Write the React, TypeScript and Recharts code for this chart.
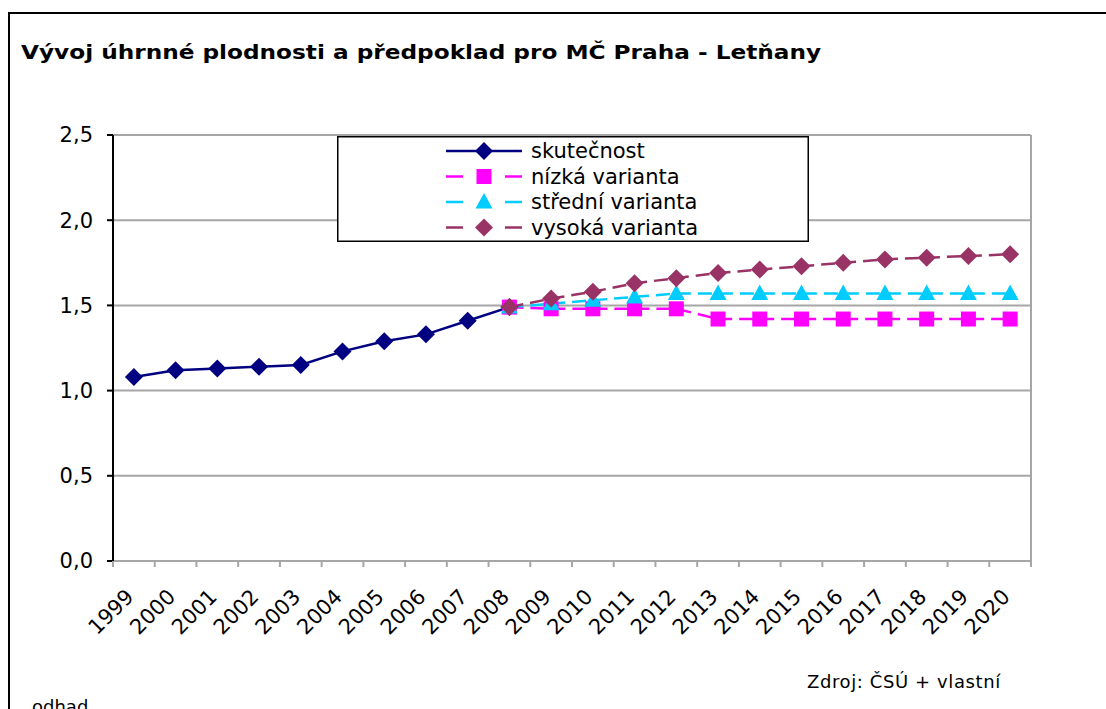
import React from "react"
import { LineChart, Line, XAxis, YAxis, CartesianGrid, Legend } from "recharts"

const years = [
    "1999", "2000", "2001", "2002", "2003", "2004", "2005", "2006", "2007", "2008", "2009",
    "2010", "2011", "2012", "2013", "2014", "2015", "2016", "2017", "2018", "2019", "2020",
]
const skutecnost = [1.08, 1.12, 1.13, 1.14, 1.15, 1.23, 1.29, 1.33, 1.41, 1.49, null, null, null, null, null, null, null, null, null, null, null, null]
const nizkaVarianta = [null, null, null, null, null, null, null, null, null, 1.49, 1.48, 1.48, 1.48, 1.48, 1.42, 1.42, 1.42, 1.42, 1.42, 1.42, 1.42, 1.42]
const stredniVarianta = [null, null, null, null, null, null, null, null, null, 1.49, 1.51, 1.53, 1.55, 1.57, 1.57, 1.57, 1.57, 1.57, 1.57, 1.57, 1.57, 1.57]
const vysokaVarianta = [null, null, null, null, null, null, null, null, null, 1.49, 1.54, 1.58, 1.63, 1.66, 1.69, 1.71, 1.73, 1.75, 1.77, 1.78, 1.79, 1.80]
const yTicks = [0, 0.5, 1, 1.5, 2, 2.5]

const data = years.map((year, i) => ({
    year,
    skutecnost: skutecnost[i],
    nizka: nizkaVarianta[i],
    stredni: stredniVarianta[i],
    vysoka: vysokaVarianta[i],
}))

const FONT = '"DejaVu Sans", Verdana, sans-serif'
const W = 1106
const H = 709
const margin = { top: 135, right: 75, left: 53, bottom: 88 }
const Y_AXIS_W = 60
const PLOT_W = W - margin.left - margin.right - Y_AXIS_W
const BAND = PLOT_W / years.length
const GRID = "#a6a6a6"

const series = [
    { key: "skutecnost", name: "skutečnost", color: "#000080", dashed: false, shape: "diamond" },
    { key: "nizka", name: "nízká varianta", color: "#ff00ff", dashed: true, shape: "square" },
    { key: "stredni", name: "střední varianta", color: "#00ccff", dashed: true, shape: "triangle" },
    { key: "vysoka", name: "vysoká varianta", color: "#993366", dashed: true, shape: "diamond" },
]

function Marker({ shape, x, y, color }: { shape: string; x: number; y: number; color: string }) {
    if (shape === "square") {
        return <rect x={x - 7.5} y={y - 7.5} width={15} height={15} fill={color} />
    }
    if (shape === "triangle") {
        return <polygon points={`${x},${y - 9} ${x + 8.5},${y + 6.5} ${x - 8.5},${y + 6.5}`} fill={color} />
    }
    return <polygon points={`${x},${y - 9} ${x + 9},${y} ${x},${y + 9} ${x - 9},${y}`} fill={color} />
}

// year labels sit at the band centre, the small tick marks at band edges (like Excel)
function YearTick(props: any) {
    const { x, y, payload, index } = props
    const left = x - BAND / 2
    const tx = x + 1
    const ty = y + 37
    return (
        <g>
            <line x1={left} x2={left} y1={y} y2={y + 6} stroke={GRID} strokeWidth={2} />
            {index === years.length - 1 && (
                <line x1={x + BAND / 2} x2={x + BAND / 2} y1={y} y2={y + 6} stroke={GRID} strokeWidth={2} />
            )}
            <text
                x={tx}
                y={ty}
                transform={`rotate(-45 ${tx} ${ty})`}
                textAnchor="end"
                fontSize={21}
                fontFamily={FONT}
                fill="#000"
            >
                {payload.value}
            </text>
        </g>
    )
}

function LegendBox() {
    return (
        <svg width={472} height={106} style={{ display: "block" }}>
            <rect x={0.75} y={0.75} width={470.5} height={104.5} fill="#fff" stroke="#000" strokeWidth={1.5} />
            {series.map((s, i) => {
                const cy = 15 + i * 25.5
                return (
                    <g key={s.key}>
                        {s.dashed ? (
                            <>
                                <line x1={109} x2={126} y1={cy} y2={cy} stroke={s.color} strokeWidth={2.5} />
                                <line x1={168} x2={185} y1={cy} y2={cy} stroke={s.color} strokeWidth={2.5} />
                            </>
                        ) : (
                            <line x1={109} x2={185} y1={cy} y2={cy} stroke={s.color} strokeWidth={2.5} />
                        )}
                        <Marker shape={s.shape} x={147} y={cy} color={s.color} />
                        <text x={194} y={cy} dy="0.35em" fontSize={21} fontFamily={FONT} fill="#000">
                            {s.name}
                        </text>
                    </g>
                )
            })}
        </svg>
    )
}

export default function App() {
    return (
        <div style={{ position: "absolute", left: 0, top: 0, width: W, height: H, overflow: "hidden", background: "#fff" }}>
            <div
                style={{
                    position: "absolute",
                    left: 8,
                    top: 12,
                    width: 1200,
                    height: 800,
                    border: "2px solid #000",
                }}
            />
            <div
                style={{
                    position: "absolute",
                    left: 21,
                    top: 42,
                    fontFamily: FONT,
                    fontWeight: "bold",
                    fontSize: 20,
                    lineHeight: "20px",
                    whiteSpace: "nowrap",
                    color: "#000",
                    transform: "scaleX(1.16)",
                    transformOrigin: "left center",
                }}
            >
                Vývoj úhrnné plodnosti a předpoklad pro MČ Praha - Letňany
            </div>
            <div style={{ position: "absolute", left: 0, top: 0 }}>
                <LineChart width={W} height={H} data={data} margin={margin}>
                    <CartesianGrid
                        stroke={GRID}
                        strokeWidth={2}
                        verticalCoordinatesGenerator={({ offset }: any) => [offset.left + offset.width]}
                    />
                    <XAxis
                        dataKey="year"
                        interval={0}
                        height={60}
                        padding={{ left: BAND / 2, right: BAND / 2 }}
                        axisLine={{ stroke: GRID, strokeWidth: 2 }}
                        tickLine={false}
                        tickSize={0}
                        tickMargin={0}
                        tick={<YearTick />}
                    />
                    <YAxis
                        width={Y_AXIS_W}
                        domain={[0, 2.5]}
                        ticks={yTicks}
                        interval={0}
                        tickFormatter={(v: number) => v.toFixed(1).replace(".", ",")}
                        axisLine={{ stroke: "#000", strokeWidth: 2 }}
                        tickLine={{ stroke: "#000", strokeWidth: 2 }}
                        tickSize={6}
                        tickMargin={14}
                        tick={{ fill: "#000", fontSize: 21, fontFamily: FONT }}
                    />
                    <Legend
                        layout="vertical"
                        align="center"
                        verticalAlign="middle"
                        wrapperStyle={{ left: 337, top: 136, width: 472, height: 106 }}
                        content={() => <LegendBox />}
                    />
                    {series.map((s) => (
                        <Line
                            key={s.key}
                            dataKey={s.key}
                            name={s.name}
                            stroke={s.color}
                            strokeWidth={2.5}
                            strokeDasharray={s.dashed ? "14 7" : undefined}
                            isAnimationActive={false}
                            connectNulls={false}
                            dot={(p: any) =>
                                p.value == null ? (
                                    <g key={`${s.key}-${p.index}`} />
                                ) : (
                                    <Marker key={`${s.key}-${p.index}`} shape={s.shape} x={p.cx} y={p.cy} color={s.color} />
                                )
                            }
                            activeDot={false}
                        />
                    ))}
                </LineChart>
            </div>
            <div
                style={{
                    position: "absolute",
                    left: 807,
                    top: 672,
                    fontFamily: FONT,
                    fontSize: 18,
                    letterSpacing: "0.6px",
                    lineHeight: "20px",
                    whiteSpace: "nowrap",
                    color: "#000",
                }}
            >
                Zdroj: ČSÚ + vlastní
            </div>
            <div
                style={{
                    position: "absolute",
                    left: 32,
                    top: 697,
                    fontFamily: FONT,
                    fontSize: 18,
                    lineHeight: "20px",
                    whiteSpace: "nowrap",
                    color: "#000",
                }}
            >
                odhad
            </div>
        </div>
    )
}
